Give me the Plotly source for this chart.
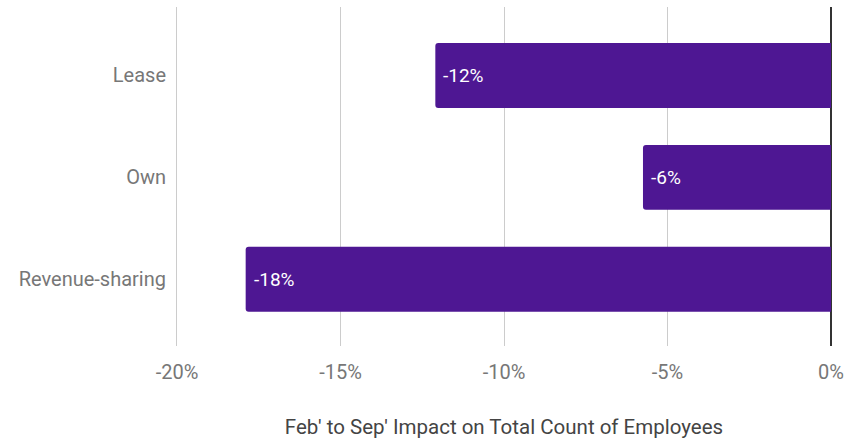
import plotly.graph_objects as go

# Ownership model categories and Feb-to-Sep change in employee count
categories = ["Lease", "Own", "Revenue-sharing"]
impact = [-0.121, -0.0575, -0.179]

tick_values = [-0.20, -0.15, -0.10, -0.05, 0.0]
tick_labels = ["-20%", "-15%", "-10%", "-5%", "0%"]

bar_color = "#4e1793"
font_family = "Roboto, Arial, sans-serif"

fig = go.Figure()
fig.add_trace(go.Bar(
    x=impact,
    y=categories,
    orientation="h",
    width=0.637,
    marker=dict(color=bar_color, line=dict(width=0), cornerradius=3),
    hoverinfo="skip",
))

# Value labels sit just inside the outer end of each bar
for cat, val in zip(categories, impact):
    fig.add_annotation(
        x=val, y=cat, xref="x", yref="y",
        text=f"{round(val * 100):.0f}%",
        showarrow=False, xanchor="left", xshift=6,
        font=dict(family=font_family, size=19, color="#ffffff"),
    )

fig.update_layout(
    width=860, height=439,
    margin=dict(l=177, r=29, t=7, b=93),
    paper_bgcolor="#ffffff",
    plot_bgcolor="#ffffff",
    showlegend=False,
    font=dict(family=font_family, color="#757575"),
    xaxis=dict(
        range=[-0.2, 0.0],
        tickvals=tick_values,
        ticktext=tick_labels,
        showgrid=True, gridcolor="#cccccc", gridwidth=1,
        zeroline=True, zerolinecolor="#333333", zerolinewidth=2,
        ticks="outside", ticklen=8, tickcolor="rgba(0,0,0,0)",
        tickfont=dict(size=20, color="#777777"),
        showline=False,
        automargin=False,
        title=dict(
            text="Feb' to Sep' Impact on Total Count of Employees",
            font=dict(size=20.5, color="#444444"),
            standoff=40,
        ),
        fixedrange=True,
    ),
    yaxis=dict(
        type="category",
        categoryorder="array", categoryarray=categories,
        range=[2.655, -0.672],
        showgrid=False, zeroline=False,
        # left edge line doubles as the -20% gridline
        showline=True, linecolor="#cccccc", linewidth=1,
        ticks="outside", ticklen=6, tickcolor="rgba(0,0,0,0)",
        tickfont=dict(size=20, color="#777777"),
        automargin=False,
        fixedrange=True,
    ),
)

fig.write_html("out.html")
